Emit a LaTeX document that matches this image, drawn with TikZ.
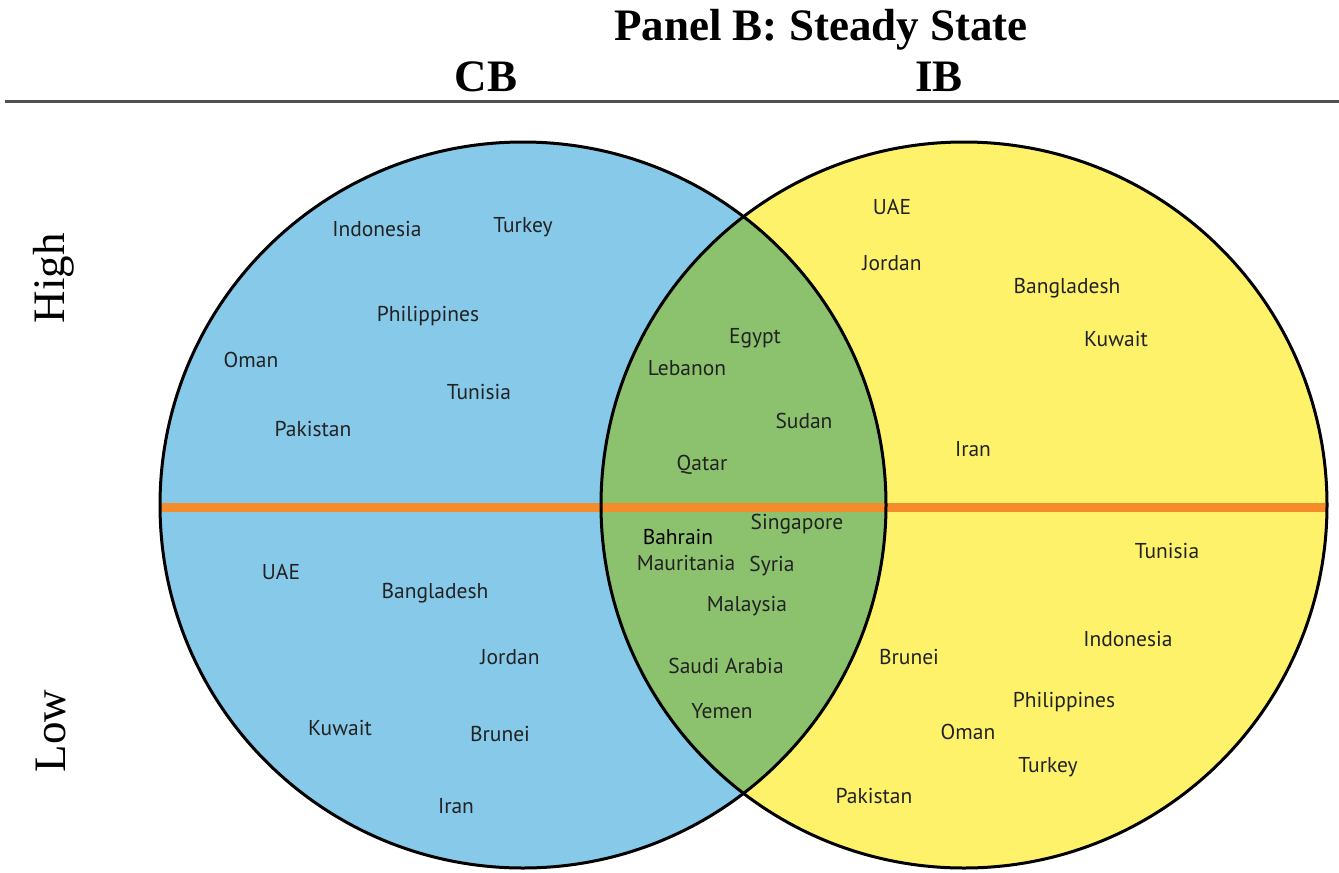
\documentclass[tikz,border=0pt]{standalone}
\usepackage{fontspec}
\setmainfont{Liberation Serif}
\newfontfamily\lblfont{PT Sans}
\definecolor{cbblue}{HTML}{87C9E9}
\definecolor{ibyellow}{HTML}{FFF26B}
\definecolor{lensgreen}{HTML}{8CC26E}
\definecolor{midorange}{HTML}{F58C2B}
\definecolor{lbltext}{HTML}{222222}
\definecolor{rulegray}{HTML}{505050}
\tikzset{
  ctry/.style={font=\lblfont\fontsize{21.5}{25}\selectfont, text=lbltext, inner sep=0pt, anchor=center},
  head/.style={font=\bfseries\fontsize{45}{50}\selectfont, inner sep=0pt, anchor=base},
  side/.style={font=\fontsize{45}{50}\selectfont, inner sep=0pt, anchor=base, rotate=90},
  circ/.style={draw=black, line width=3pt}
}
\begin{document}
\begin{tikzpicture}[x=1pt,y=-1pt]
\useasboundingbox (0,0) rectangle (1339,873);
% fills
\coordinate (cL) at (523,505);
\coordinate (cR) at (964,505);
\fill[cbblue] (cL) circle[radius=363];
\fill[ibyellow] (cR) circle[radius=363];
\begin{scope}
  \clip (cL) circle[radius=363];
  \fill[lensgreen] (cR) circle[radius=363];
\end{scope}
% middle orange line
\coordinate (oL) at (160,507.5);
\coordinate (oR) at (1327,507.5);
\draw[midorange, line width=8.5pt] (oL) -- (oR);
% outlines
\draw[circ] (cL) circle[radius=363];
\draw[circ] (cR) circle[radius=363];
% header
\node[head] (title) at (821,40) {Panel B: Steady State};
\node[head] (cb) at (486,91) {CB};
\node[head] (ib) at (939,91) {IB};
\coordinate (rl) at (5,101);
\coordinate (rr) at (1339,101);
\draw[rulegray, line width=3pt] (rl) -- (rr);
\node[side] (high) at (64,278) {High};
\node[side] (low) at (65,731) {Low};
% CB high
\node[ctry] (a1) at (377,229) {Indonesia};
\node[ctry] (a2) at (523,227) {Turkey};
\node[ctry] (a3) at (428,316) {Philippines};
\node[ctry] (a4) at (251,360) {Oman};
\node[ctry] (a5) at (479,392) {Tunisia};
\node[ctry] (a6) at (313,429) {Pakistan};
% CB low
\node[ctry] (b1) at (281,572) {UAE};
\node[ctry] (b2) at (435,593) {Bangladesh};
\node[ctry] (b3) at (510,657) {Jordan};
\node[ctry] (b4) at (340,728) {Kuwait};
\node[ctry] (b5) at (500,734) {Brunei};
\node[ctry] (b6) at (456,806) {Iran};
% overlap high
\node[ctry] (c1) at (755,338) {Egypt};
\node[ctry] (c2) at (687,368) {Lebanon};
\node[ctry] (c3) at (804,421) {Sudan};
\node[ctry] (c4) at (702,465) {Qatar};
% overlap low
\node[ctry, text=black] (d1) at (678,537) {Bahrain};
\node[ctry] (d2) at (797,524) {Singapore};
\node[ctry] (d3) at (686,563) {Mauritania};
\node[ctry] (d4) at (772,566) {Syria};
\node[ctry] (d5) at (747,606) {Malaysia};
\node[ctry] (d6) at (726,666) {Saudi Arabia};
\node[ctry] (d7) at (722,711) {Yemen};
% IB high
\node[ctry] (e1) at (892,207) {UAE};
\node[ctry] (e2) at (892,263) {Jordan};
\node[ctry] (e3) at (1067,288) {Bangladesh};
\node[ctry] (e4) at (1116,339) {Kuwait};
\node[ctry] (e5) at (973,449) {Iran};
% IB low
\node[ctry] (f1) at (1167,551) {Tunisia};
\node[ctry] (f2) at (1128,639) {Indonesia};
\node[ctry] (f3) at (909,657) {Brunei};
\node[ctry] (f4) at (1064,702) {Philippines};
\node[ctry] (f5) at (968,732) {Oman};
\node[ctry] (f6) at (1048,767) {Turkey};
\node[ctry] (f7) at (874,796) {Pakistan};
\end{tikzpicture}
\end{document}
